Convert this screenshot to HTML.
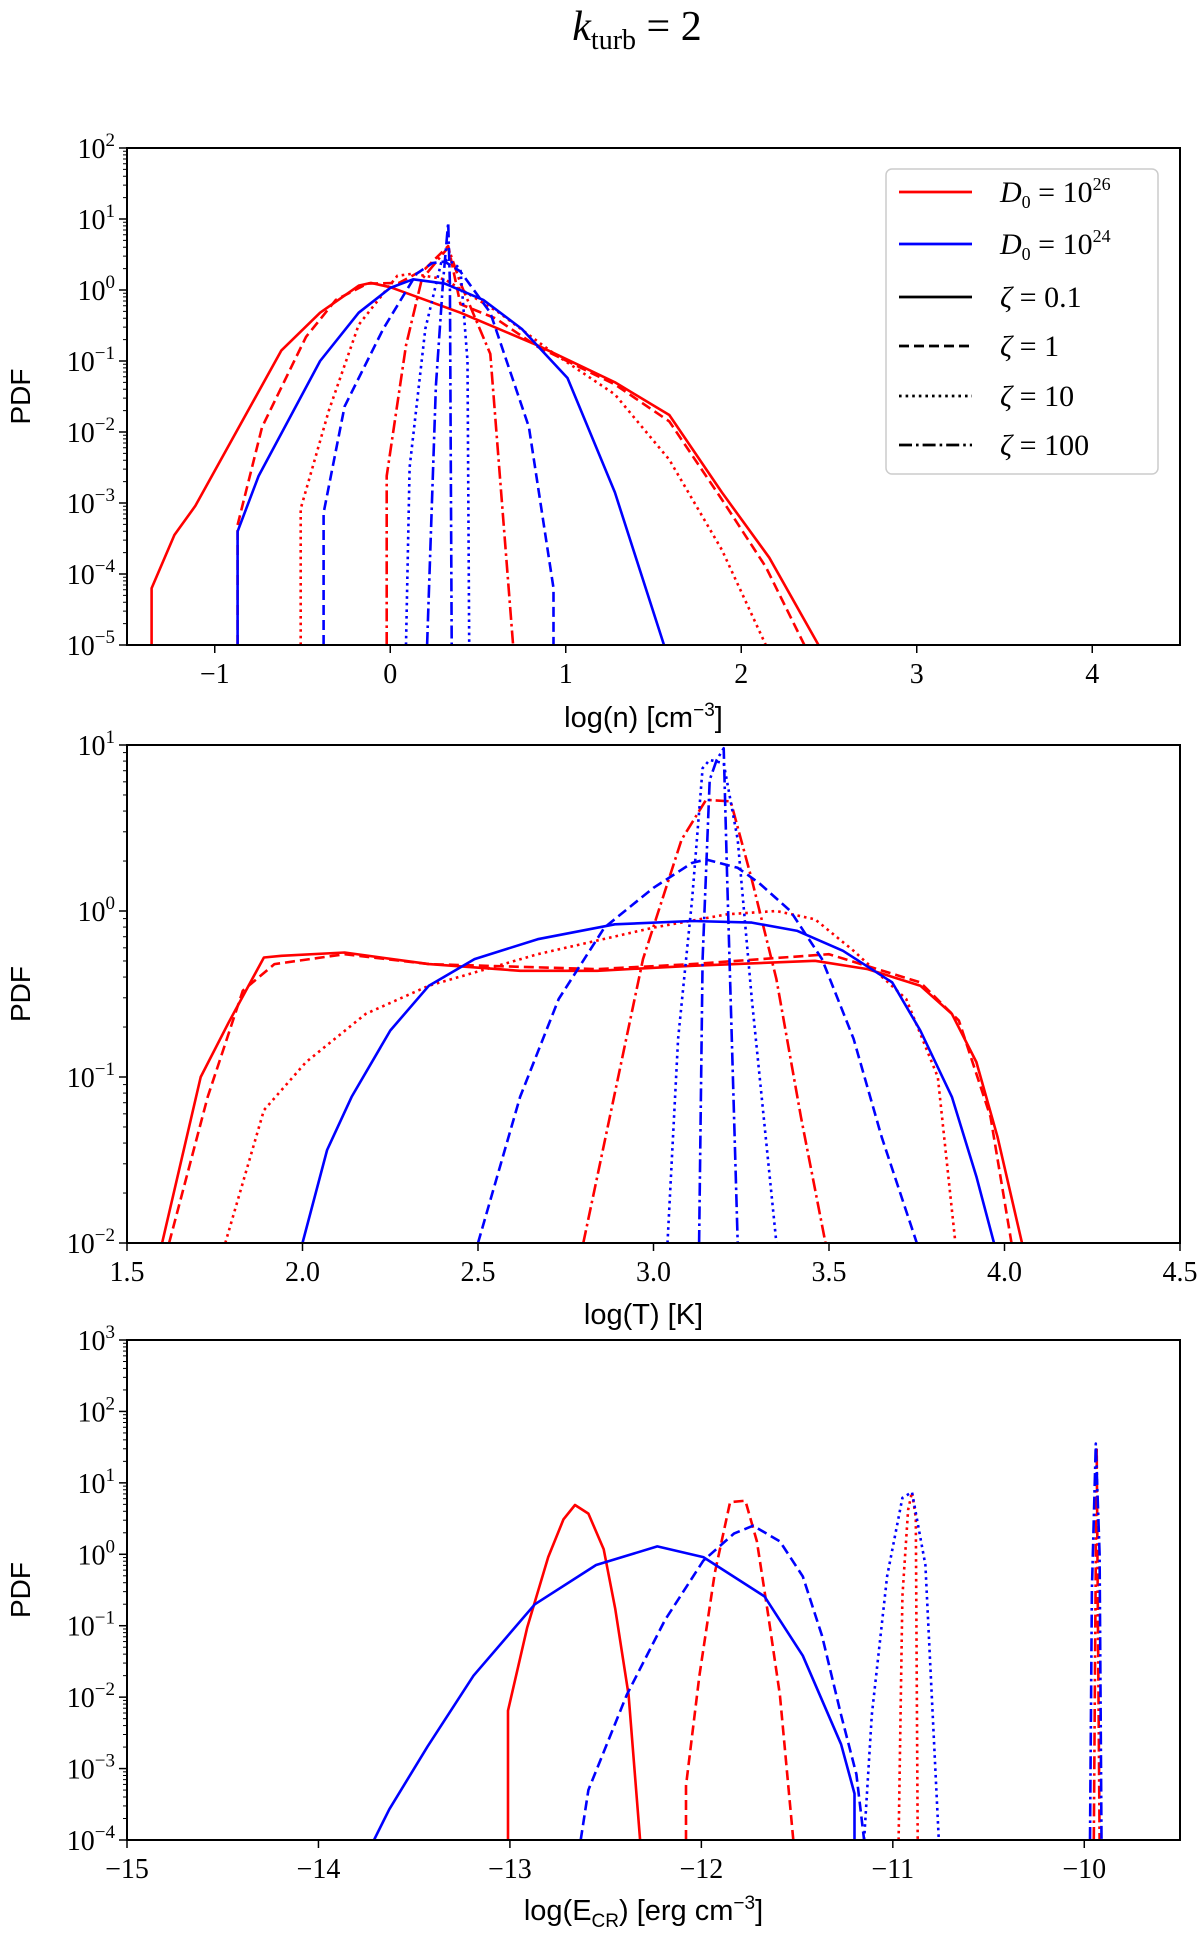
<!DOCTYPE html>
<html><head><meta charset="utf-8"><style>
body{margin:0;background:#fff;}
svg{display:block;font-family:"Liberation Serif",serif;}
</style></head><body>
<svg id="fig" width="1200" height="1935" viewBox="0 0 1200 1935" xmlns="http://www.w3.org/2000/svg">
<rect width="1200" height="1935" fill="#fff"/>
<text x="637" y="40" text-anchor="middle" font-size="42" font-style="italic">k<tspan font-size="28" font-style="normal" dy="9">turb</tspan><tspan dy="-9" font-style="normal"> = 2</tspan></text>
<g id="plots"></g>
</svg>
<script>
// ---- Panel 1: density ----
const n_red_s_x=[-1.36,-1.36,-1.23,-1.11,-0.62,-0.40,-0.18,-0.11,0,0.40,0.84,1.28,1.59,1.89,2.16,2.44];
const n_red_s_y=[-5,-4.2,-3.45,-3.04,-0.85,-0.32,0.06,0.1,0.04,-0.32,-0.78,-1.3,-1.76,-2.85,-3.77,-5];
const n_red_d_x=[-0.87,-0.87,-0.73,-0.48,-0.31,-0.13,0.05,0.2,0.33,0.4,0.6,0.84,1.28,1.59,1.89,2.14,2.36];
const n_red_d_y=[-5,-3.31,-1.93,-0.66,-0.14,0.09,0.1,0.3,0.62,-0.2,-0.4,-0.8,-1.33,-1.85,-2.95,-3.9,-5];
const n_red_o_x=[-0.51,-0.51,-0.35,-0.18,0.04,0.13,0.31,0.62,0.93,1.28,1.59,1.89,2.14];
const n_red_o_y=[-5,-3.08,-1.7,-0.49,0.2,0.23,0.15,-0.32,-0.89,-1.47,-2.39,-3.66,-5];
const n_red_c_x=[-0.02,-0.02,0.09,0.18,0.33,0.40,0.57,0.70];
const n_red_c_y=[-5,-2.62,-0.78,0.15,0.6,0.1,-0.9,-5];
const n_blu_s_x=[-0.87,-0.87,-0.75,-0.40,-0.18,0,0.13,0.31,0.53,0.75,1.01,1.28,1.56];
const n_blu_s_y=[-5,-3.4,-2.62,-1.0,-0.32,0.03,0.15,0.09,-0.14,-0.55,-1.24,-2.85,-5];
const n_blu_d_x=[-0.38,-0.38,-0.26,-0.04,0.15,0.24,0.31,0.40,0.57,0.79,0.93,0.93];
const n_blu_d_y=[-5,-3.14,-1.64,-0.55,0.23,0.38,0.4,0.26,-0.32,-1.93,-4.2,-5];
const n_blu_o_x=[0.09,0.11,0.2,0.29,0.33,0.40,0.44,0.45];
const n_blu_o_y=[-5,-2.5,-0.55,0.38,0.43,0.3,-1,-5];
const n_blu_c_x=[0.21,0.26,0.30,0.33,0.34,0.35];
const n_blu_c_y=[-5,-1.35,0.09,0.95,0.09,-5];
const n_xticks=[-1,0,1,2,3,4];
const n_yticks=[-5,-4,-3,-2,-1,0,1,2];
// ---- Panel 2: temperature ----
const t_red_s_x=[1.60,1.71,1.79,1.89,1.94,2.12,2.36,2.62,2.84,3.11,3.46,3.61,3.76,3.85,3.92,3.98,4.05];
const t_red_s_y=[-2,-1.0,-0.67,-0.28,-0.27,-0.25,-0.32,-0.36,-0.36,-0.33,-0.30,-0.35,-0.45,-0.62,-0.91,-1.36,-2];
const t_red_d_x=[1.62,1.73,1.83,1.92,2.12,2.36,2.84,3.11,3.50,3.76,3.87,3.96,4.02];
const t_red_d_y=[-2,-1.12,-0.48,-0.32,-0.26,-0.32,-0.35,-0.32,-0.26,-0.43,-0.66,-1.24,-2];
const t_red_o_x=[1.78,1.89,2.01,2.18,2.36,2.67,3.0,3.21,3.35,3.46,3.57,3.72,3.81,3.86];
const t_red_o_y=[-2,-1.2,-0.91,-0.62,-0.45,-0.26,-0.1,-0.02,0.0,-0.05,-0.24,-0.53,-1.0,-2];
const t_red_c_x=[2.80,2.97,3.08,3.15,3.22,3.28,3.35,3.42,3.49];
const t_red_c_y=[-2,-0.29,0.43,0.67,0.66,0.19,-0.41,-1.24,-2];
const t_blu_s_x=[2.0,2.07,2.14,2.25,2.36,2.49,2.67,2.89,3.11,3.28,3.41,3.54,3.68,3.76,3.85,3.92,3.97];
const t_blu_s_y=[-2,-1.44,-1.12,-0.72,-0.45,-0.29,-0.17,-0.08,-0.06,-0.07,-0.12,-0.24,-0.43,-0.72,-1.12,-1.6,-2];
const t_blu_d_x=[2.50,2.62,2.73,2.86,3.0,3.11,3.15,3.24,3.30,3.39,3.48,3.57,3.65,3.75];
const t_blu_d_y=[-2,-1.12,-0.53,-0.10,0.14,0.29,0.31,0.26,0.17,0.0,-0.29,-0.77,-1.36,-2];
const t_blu_o_x=[3.04,3.07,3.11,3.14,3.16,3.20,3.24,3.28,3.35];
const t_blu_o_y=[-2,-0.77,0.07,0.86,0.91,0.89,0.43,-0.53,-2];
const t_blu_c_x=[3.13,3.14,3.16,3.18,3.20,3.21,3.24];
const t_blu_c_y=[-2,-0.29,0.79,0.91,0.98,0.19,-2];
const t_xticks=[1.5,2.0,2.5,3.0,3.5,4.0,4.5];
const t_yticks=[-2,-1,0,1];
// ---- Panel 3: cosmic ray energy ----
const e_red_s_x=[-13.01,-13.01,-12.91,-12.80,-12.72,-12.66,-12.59,-12.51,-12.45,-12.38,-12.32];
const e_red_s_y=[-4,-2.19,-1.03,-0.04,0.49,0.69,0.57,0.07,-0.76,-1.97,-4];
const e_red_d_x=[-12.08,-12.08,-12.01,-11.93,-11.85,-11.77,-11.71,-11.65,-11.59,-11.52];
const e_red_d_y=[-4,-3.24,-1.70,-0.26,0.73,0.75,0.18,-0.87,-1.97,-4];
const e_red_o_x=[-10.97,-10.95,-10.92,-10.90,-10.88,-10.87];
const e_red_o_y=[-4,-0.59,0.62,0.87,0.51,-4];
const e_red_c_x=[-9.95,-9.94,-9.935,-9.93,-9.92];
const e_red_c_y=[-4,-0.04,1.5,-0.5,-4];
const e_blu_s_x=[-13.71,-13.63,-13.43,-13.19,-12.87,-12.55,-12.23,-11.99,-11.67,-11.47,-11.27,-11.20,-11.20];
const e_blu_s_y=[-4,-3.57,-2.69,-1.70,-0.70,-0.15,0.11,-0.04,-0.59,-1.42,-2.66,-3.35,-4];
const e_blu_d_x=[-12.63,-12.59,-12.39,-12.19,-11.99,-11.83,-11.73,-11.59,-11.47,-11.37,-11.27,-11.19,-11.15];
const e_blu_d_y=[-4,-3.30,-1.97,-0.92,-0.09,0.29,0.40,0.18,-0.31,-1.14,-2.25,-3.08,-4];
const e_blu_o_x=[-11.15,-11.11,-11.03,-10.95,-10.90,-10.83,-10.76];
const e_blu_o_y=[-4,-2.25,-0.31,0.79,0.87,-0.15,-4];
const e_blu_c_x=[-9.97,-9.96,-9.94,-9.92,-9.91];
const e_blu_c_y=[-4,-0.5,1.55,0,-4];
const e_xticks=[-15,-14,-13,-12,-11,-10];
const e_yticks=[-4,-3,-2,-1,0,1,2,3];

const NS="http://www.w3.org/2000/svg";
const root=document.getElementById('plots');
const DASH={s:"",d:"10,5",o:"2.6,4",c:"13,4,2.6,4"};
function mk(tag,attrs,parent){const e=document.createElementNS(NS,tag);for(const k in attrs)e.setAttribute(k,attrs[k]);(parent||root).appendChild(e);return e;}
function fmt(v,dec){return (v<0?"\u2212":"")+Math.abs(v).toFixed(dec);}

function panel(cfg){
  const g=mk('g',{});
  
  
  const L=127,R=1180,T=cfg.top,B=cfg.bottom;
  const sx=v=>L+(v-cfg.xmin)/(cfg.xmax-cfg.xmin)*(R-L);
  const sy=v=>B-(v-cfg.ymin)/(cfg.ymax-cfg.ymin)*(B-T);
  const cp=mk('clipPath',{id:'clip'+cfg.id},g);mk('rect',{x:L,y:T,width:R-L,height:B-T},cp);
  const series=g.appendChild(document.createElementNS(NS,'g'));
  series.setAttribute('clip-path','url(#clip'+cfg.id+')');
  for(const s of cfg.series){
    const pts=s.x.map((v,i)=>sx(v).toFixed(1)+","+sy(s.y[i]).toFixed(1)).join(" ");
    const pl=mk('polyline',{points:pts,fill:'none',stroke:s.c==='r'?'#ff0000':'#0000ff','stroke-width':2.6,'stroke-dasharray':DASH[s.st],'stroke-linejoin':'round'},series);
    
    
  }
  const frame=mk('rect',{x:L,y:T,width:R-L,height:B-T,fill:'none',stroke:'#000','stroke-width':2},g);
  
  
  for(const t of cfg.xticks){
    const x=sx(t);
    mk('line',{x1:x,y1:B,x2:x,y2:B+8,stroke:'#000','stroke-width':1.5},g);
    const tx=mk('text',{x:x,y:B+38,'text-anchor':'middle','font-size':28},g);
    tx.textContent=fmt(t,cfg.xdec);
    
    
  }
  for(const t of cfg.yticks){
    const y=sy(t);
    mk('line',{x1:L,y1:y,x2:L-8,y2:y,stroke:'#000','stroke-width':1.5},g);
    if(t<cfg.ymax){for(let k=2;k<10;k++){const ym=sy(t+Math.log10(k));mk('line',{x1:L,y1:ym,x2:L-4,y2:ym,stroke:'#000','stroke-width':1},g);}}
    const tx=mk('text',{x:L-12,y:y+10,'text-anchor':'end','font-size':28},g);
    
    
    tx.innerHTML='10<tspan dy="-12" font-size="19">'+(t<0?'\u2212':'')+Math.abs(t)+'</tspan>';
  }
  const yl=mk('text',{x:0,y:0,transform:'translate(30,'+((T+B)/2)+') rotate(-90)','text-anchor':'middle','font-size':28,'font-family':'Liberation Sans, sans-serif'},g);
  yl.textContent='PDF';
  
  
  const xl=mk('text',{x:(L+R)/2-10,y:cfg.xlabelY,'text-anchor':'middle','font-size':29,'font-family':'Liberation Sans, sans-serif'},g);
  xl.innerHTML=cfg.xlabel;
  
  
  return g;
}
function S(c,st,x,y,n){return {c:c,st:st,x:x,y:y,n:n};}
panel({id:1,name:'density-panel',top:148,bottom:645,xmin:-1.5,xmax:4.5,ymin:-5,ymax:2,xdec:0,xticks:n_xticks,yticks:n_yticks,xlabelY:727,
 xlabel:'log(n) [cm<tspan dy="-11" font-size="19">\u22123</tspan><tspan dy="11">]</tspan>',
 series:[S('r','s',n_red_s_x,n_red_s_y,'n-d26-z0.1'),S('r','d',n_red_d_x,n_red_d_y,'n-d26-z1'),S('r','o',n_red_o_x,n_red_o_y,'n-d26-z10'),S('r','c',n_red_c_x,n_red_c_y,'n-d26-z100'),
 S('b','s',n_blu_s_x,n_blu_s_y,'n-d24-z0.1'),S('b','d',n_blu_d_x,n_blu_d_y,'n-d24-z1'),S('b','o',n_blu_o_x,n_blu_o_y,'n-d24-z10'),S('b','c',n_blu_c_x,n_blu_c_y,'n-d24-z100')]});
panel({id:2,name:'temperature-panel',top:745,bottom:1243,xmin:1.5,xmax:4.5,ymin:-2,ymax:1,xdec:1,xticks:t_xticks,yticks:t_yticks,xlabelY:1324,
 xlabel:'log(T) [K]',
 series:[S('r','s',t_red_s_x,t_red_s_y,'t-d26-z0.1'),S('r','d',t_red_d_x,t_red_d_y,'t-d26-z1'),S('r','o',t_red_o_x,t_red_o_y,'t-d26-z10'),S('r','c',t_red_c_x,t_red_c_y,'t-d26-z100'),
 S('b','s',t_blu_s_x,t_blu_s_y,'t-d24-z0.1'),S('b','d',t_blu_d_x,t_blu_d_y,'t-d24-z1'),S('b','o',t_blu_o_x,t_blu_o_y,'t-d24-z10'),S('b','c',t_blu_c_x,t_blu_c_y,'t-d24-z100')]});
panel({id:3,name:'ecr-panel',top:1340,bottom:1840,xmin:-15,xmax:-9.5,ymin:-4,ymax:3,xdec:0,xticks:e_xticks,yticks:e_yticks,xlabelY:1920,
 xlabel:'log(E<tspan dy="7" font-size="19">CR</tspan><tspan dy="-7">) [erg cm</tspan><tspan dy="-11" font-size="19">\u22123</tspan><tspan dy="11">]</tspan>',
 series:[S('r','s',e_red_s_x,e_red_s_y,'e-d26-z0.1'),S('r','d',e_red_d_x,e_red_d_y,'e-d26-z1'),S('r','o',e_red_o_x,e_red_o_y,'e-d26-z10'),S('r','c',e_red_c_x,e_red_c_y,'e-d26-z100'),
 S('b','s',e_blu_s_x,e_blu_s_y,'e-d24-z0.1'),S('b','d',e_blu_d_x,e_blu_d_y,'e-d24-z1'),S('b','o',e_blu_o_x,e_blu_o_y,'e-d24-z10'),S('b','c',e_blu_c_x,e_blu_c_y,'e-d24-z100')]});

// legend
const lg=mk('g',{});


mk('rect',{x:886,y:169,width:272,height:305,rx:6,fill:'#fff',stroke:'#ccc','stroke-width':1.5},lg);
const legItems=[['#ff0000','s','<tspan font-style="italic">D</tspan><tspan font-size="18" dy="6">0</tspan><tspan dy="-6"> = 10</tspan><tspan font-size="18" dy="-12">26</tspan>'],
['#0000ff','s','<tspan font-style="italic">D</tspan><tspan font-size="18" dy="6">0</tspan><tspan dy="-6"> = 10</tspan><tspan font-size="18" dy="-12">24</tspan>'],
['#000','s','<tspan font-style="italic">ζ</tspan> = 0.1'],['#000','d','<tspan font-style="italic">ζ</tspan> = 1'],
['#000','o','<tspan font-style="italic">ζ</tspan> = 10'],['#000','c','<tspan font-style="italic">ζ</tspan> = 100']];
const legY=[192,244,297,346,396,445];
legItems.forEach((it,i)=>{
  const e=mk('g',{},lg);
  
  
  mk('line',{x1:899,y1:legY[i],x2:972,y2:legY[i],stroke:it[0],'stroke-width':2.8,'stroke-dasharray':DASH[it[1]]},e);
  const t=mk('text',{x:1000,y:legY[i]+10,'font-size':30},e);
  t.innerHTML=it[2];
});
</script>
</body></html>
